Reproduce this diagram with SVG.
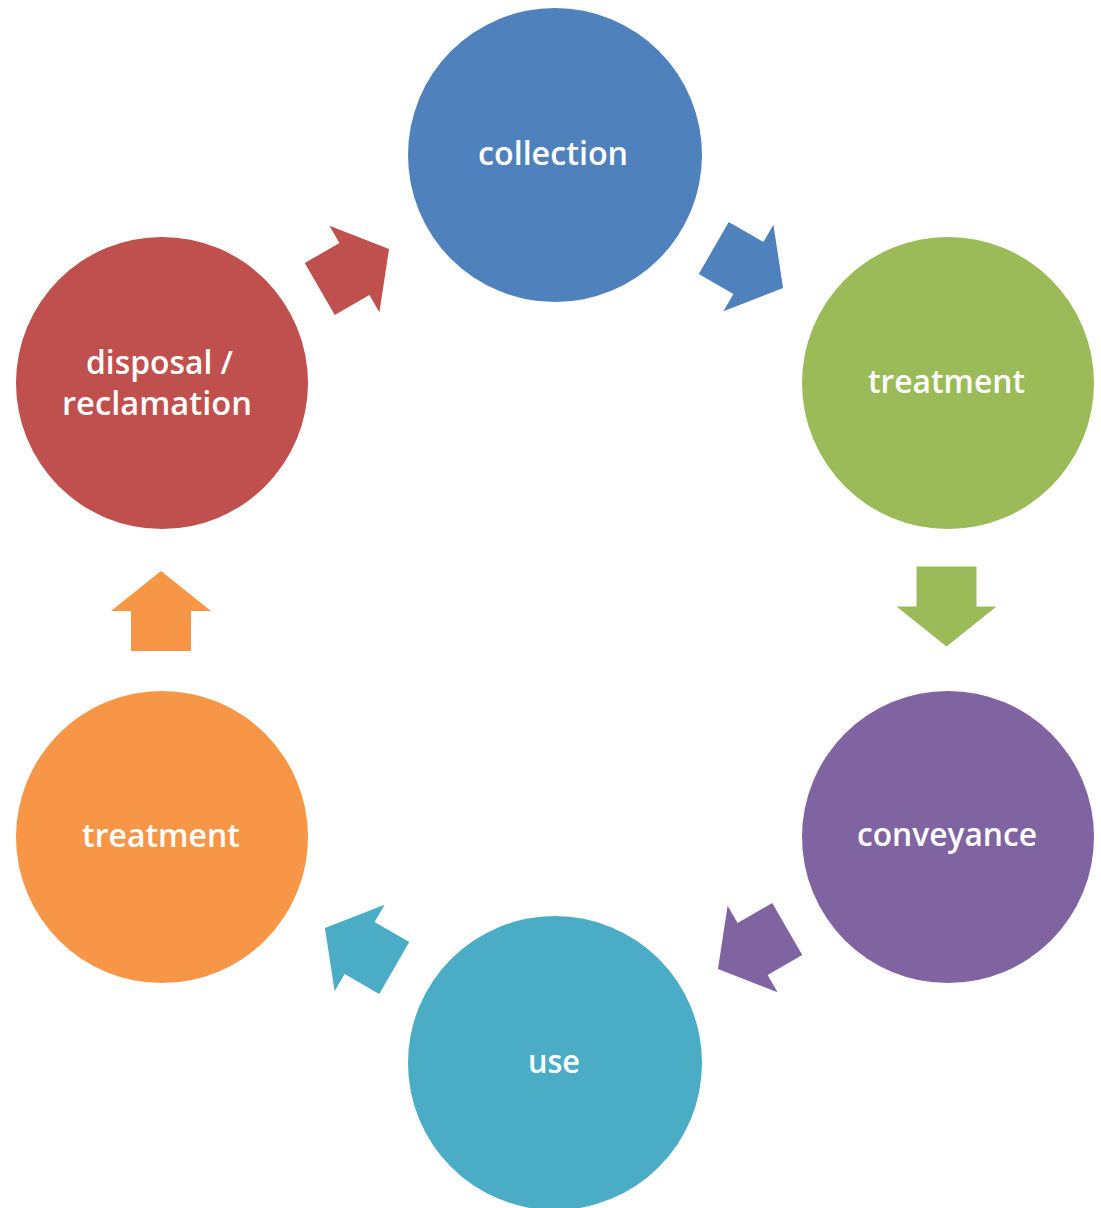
<svg xmlns="http://www.w3.org/2000/svg" width="1101" height="1208" viewBox="0 0 1101 1208">
<defs>
<style>
.lbl{font-family:"Open Sans","Liberation Sans",sans-serif;font-size:32px;fill:#ffffff;text-anchor:middle;font-weight:600}
</style>
<polygon id="arw" points="-40,-30 0,-30 0,-50 40,0 0,50 0,30 -40,30"/>
</defs>
<rect width="1101" height="1208" fill="#ffffff"/>
<g id="collection">
<circle cx="555" cy="155" r="147" fill="#4F81BD"/>
<text class="lbl" x="553" y="165" textLength="150" lengthAdjust="spacingAndGlyphs">collection</text>
</g>
<g id="treatment1">
<circle cx="948" cy="383" r="146" fill="#9BBB59"/>
<text class="lbl" x="946.5" y="393" textLength="157" lengthAdjust="spacingAndGlyphs">treatment</text>
</g>
<g id="conveyance">
<circle cx="948" cy="837" r="146" fill="#8064A2"/>
<text class="lbl" x="947" y="846" textLength="180" lengthAdjust="spacingAndGlyphs">conveyance</text>
</g>
<g id="use">
<circle cx="555" cy="1063" r="147" fill="#4BACC6"/>
<text class="lbl" x="554" y="1073" textLength="52" lengthAdjust="spacingAndGlyphs">use</text>
</g>
<g id="treatment2">
<circle cx="162" cy="837" r="146" fill="#F79646"/>
<text class="lbl" x="161" y="847" textLength="158" lengthAdjust="spacingAndGlyphs">treatment</text>
</g>
<g id="disposal">
<circle cx="162" cy="383" r="146" fill="#C0504D"/>
<text class="lbl" x="159.5" y="374" textLength="147" lengthAdjust="spacingAndGlyphs">disposal /</text>
<text class="lbl" x="157" y="415" textLength="190" lengthAdjust="spacingAndGlyphs">reclamation</text>
</g>
<g id="connectors">
<use href="#arw" fill="#4F81BD" transform="translate(748.4,268) rotate(30)"/>
<use href="#arw" fill="#9BBB59" transform="translate(946.5,606.5) rotate(90)"/>
<use href="#arw" fill="#8064A2" transform="translate(752.6,949) rotate(150)"/>
<use href="#arw" fill="#4BACC6" transform="translate(359.6,948) rotate(-150)"/>
<use href="#arw" fill="#F79646" transform="translate(161,611) rotate(-90)"/>
<use href="#arw" fill="#C0504D" transform="translate(354.4,269) rotate(-30)"/>
</g>
</svg>
